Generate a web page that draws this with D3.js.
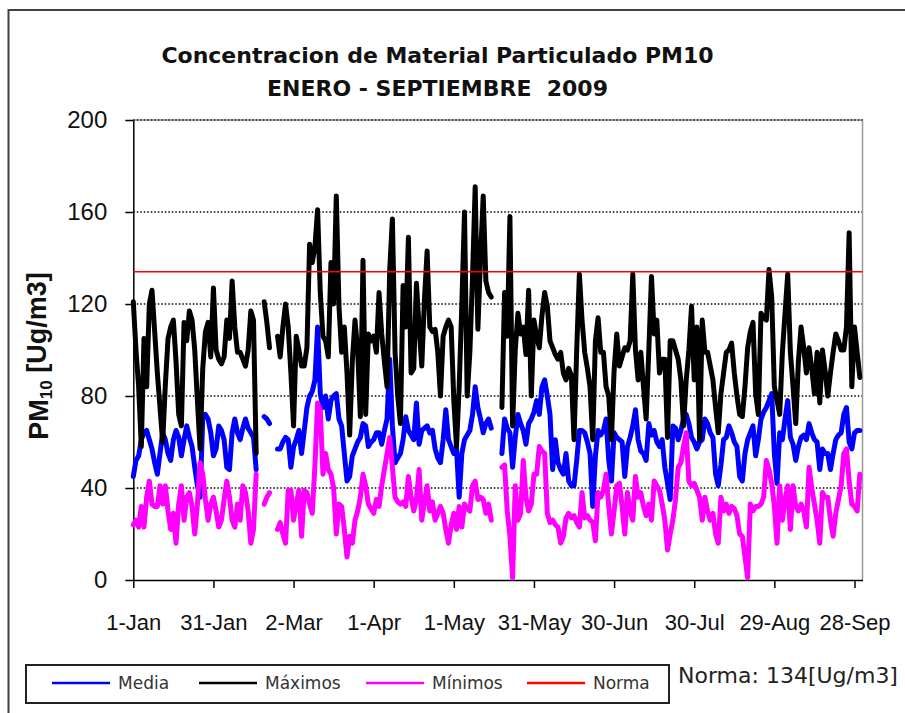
<!DOCTYPE html>
<html>
<head>
<meta charset="utf-8">
<script src="https://cdn.jsdelivr.net/npm/d3@7"></script>
<style>
  body { margin: 0; background: #fff; }
  text { white-space: pre; }
</style>
</head>
<body>
<div id="chart"></div>
<script>
// daily values, 1-Jan-2009 .. 30-Sep-2009 (null = no data)
const startDate = "2009-01-01";

const maximos = [
  121,100,84,58,105,84,120,126,108,90,
  75,60,85,105,110,113,95,72,67,112,
  104,117,113,100,78,57,92,108,112,97,
  127,100,96,94,97,113,105,130,110,99,
  99,96,93,100,117,113,55,null,null,121,
  112,101,null,null,106,97,110,120,110,90,
  67,106,100,93,93,101,146,138,145,161,
  125,106,104,97,138,120,167,119,99,110,
  90,63,95,113,100,71,139,72,107,104,
  106,99,125,107,95,84,135,157,99,80,
  68,128,110,149,90,92,129,110,93,122,
  143,110,108,109,99,80,106,110,113,110,
  78,58,84,120,160,80,99,132,171,109,
  140,167,130,125,123,null,null,null,75,125,
  106,158,67,100,116,107,110,98,126,80,
  113,106,101,115,125,119,104,101,98,96,
  99,90,87,92,89,61,100,133,113,99,
  92,84,61,104,114,99,99,84,80,61,
  91,107,93,97,101,100,104,133,100,87,
  99,84,70,100,132,107,113,90,96,96,
  62,104,104,100,96,87,67,87,100,119,
  87,110,61,113,99,99,93,87,75,64,
  81,90,99,100,103,90,80,72,71,84,
  101,108,112,81,72,116,114,113,135,123,
  84,78,72,99,116,133,99,84,68,95,
  110,101,90,101,92,81,99,77,100,91,
  80,90,99,107,104,100,100,110,151,84,
  110,99,88
];

const media = [
  45,52,54,61,64,65,61,57,51,46,
  55,64,61,55,52,61,65,62,54,61,
  67,62,58,49,41,36,70,72,70,64,
  54,57,67,65,61,49,48,64,70,64,
  61,66,70,66,64,62,48,null,null,71,
  70,68,null,null,57,57,60,62,61,49,
  58,61,65,55,65,75,80,82,87,110,
  81,75,80,70,78,80,81,70,67,55,
  43,45,54,57,60,62,68,67,58,60,
  61,64,64,59,65,70,96,67,51,53,
  55,61,71,65,63,61,77,59,65,66,
  67,64,65,57,53,51,61,74,61,58,
  55,57,36,55,61,63,65,72,84,75,
  70,64,68,70,66,null,null,null,55,70,
  66,64,49,62,72,68,65,59,68,70,
  73,78,72,84,87,80,72,48,61,51,
  48,46,55,43,41,41,52,65,65,64,
  60,55,32,54,65,63,65,70,52,43,
  64,62,61,60,45,58,62,67,74,61,
  56,55,52,68,63,65,60,58,61,49,
  42,35,67,66,61,65,70,72,68,62,
  60,57,60,61,70,68,64,62,46,41,
  50,61,62,67,64,60,58,45,43,55,
  61,64,67,54,61,70,73,75,78,81,
  55,42,64,61,70,78,62,59,52,58,
  62,63,61,68,64,61,60,48,57,55,
  55,48,55,61,63,64,72,75,60,57,
  64,65,65
];

const minimos = [
  24,26,23,32,23,36,43,33,32,32,
  41,33,41,30,22,29,16,33,41,26,
  36,38,32,20,33,51,46,35,26,33,
  36,30,23,26,35,43,36,26,23,33,
  26,41,38,30,16,22,46,null,null,33,
  36,38,null,null,22,25,20,16,39,39,
  26,33,39,19,39,38,33,29,50,77,
  74,46,55,48,46,40,20,33,32,22,
  10,19,16,26,30,36,46,41,33,31,
  29,35,32,41,48,55,62,49,36,34,
  33,34,32,45,36,30,35,48,26,34,
  41,30,34,26,29,32,29,22,16,24,
  29,22,32,23,33,31,30,41,43,35,
  36,35,29,33,26,null,null,null,49,50,
  30,19,1,41,26,29,52,36,30,33,
  46,46,58,56,55,29,25,26,24,23,
  16,19,27,29,27,28,25,23,38,27,
  28,26,25,17,38,36,39,46,32,20,
  30,41,42,32,20,38,30,26,45,36,
  38,32,28,33,26,43,41,39,33,26,
  13,20,26,35,49,51,58,64,43,41,
  42,39,36,26,36,30,26,29,20,16,
  36,30,33,29,32,31,28,20,19,10,
  1,33,30,32,32,33,36,52,48,42,
  32,16,41,26,35,41,22,41,32,30,
  33,30,23,49,40,33,26,16,38,36,
  36,26,19,29,35,41,55,57,43,33,
  32,30,46
];

const norma = 134;
const axisEndDate = "2009-10-01";

const tickDates = ["2009-01-01","2009-01-31","2009-03-02","2009-04-01","2009-05-01",
                   "2009-05-31","2009-06-30","2009-07-30","2009-08-29","2009-09-28"];
const tickLabels = ["1-Jan","31-Jan","2-Mar","1-Apr","1-May","31-May","30-Jun","30-Jul","29-Aug","28-Sep"];
const yTicks = [0, 40, 80, 120, 160, 200];

const seriesNames = ["Media", "Máximos", "Mínimos", "Norma"];
const seriesColors = ["#0000ff", "#000000", "#ff00ff", "#ff0000"];

// ---- layout
const width = 905, height = 713;
const plot = { left: 133.3, right: 862.5, top: 120, bottom: 580 };

const parseDate = d3.utcParse("%Y-%m-%d");
const start = parseDate(startDate);
const dates = maximos.map((_, i) => d3.utcDay.offset(start, i));

const x = d3.scaleUtc()
  .domain([start, parseDate(axisEndDate)])
  .range([plot.left, plot.right]);

const y = d3.scaleLinear()
  .domain([0, 200])
  .range([plot.bottom, plot.top]);

const svg = d3.select("#chart").append("svg")
  .attr("width", width)
  .attr("height", height)
  .style("font-family", "'Liberation Sans', Arial, sans-serif");

svg.append("rect")
  .attr("width", width).attr("height", height)
  .attr("fill", "#fff");

// outer chart frame
svg.append("rect")
  .attr("x", 8.5).attr("y", 10)
  .attr("width", 1000).attr("height", 1000)
  .attr("fill", "none")
  .attr("stroke", "#404040")
  .attr("stroke-width", 2);

// title
const title = svg.append("g")
  .attr("font-family", "'DejaVu Sans', sans-serif")
  .attr("font-weight", "bold")
  .attr("font-size", 22)
  .attr("fill", "#111")
  .attr("text-anchor", "middle");
title.append("text").attr("x", 437.5).attr("y", 63)
  .text("Concentracion de Material Particulado PM10");
title.append("text").attr("x", 437.5).attr("y", 96)
  .text("ENERO - SEPTIEMBRE  2009");

// grid lines (dotted)
svg.append("g")
  .selectAll("line")
  .data(yTicks.filter(v => v > 0))
  .enter()
  .append("line")
  .attr("x1", plot.left).attr("x2", plot.right)
  .attr("y1", d => y(d)).attr("y2", d => y(d))
  .attr("stroke", "#000")
  .attr("stroke-width", 1.4)
  .attr("stroke-dasharray", "1.5,2");

// plot area border top / right
svg.append("path")
  .attr("d", `M${plot.left},${plot.top}H${plot.right}V${plot.bottom}`)
  .attr("fill", "none")
  .attr("stroke", "#999")
  .attr("stroke-width", 1.5);
svg.append("line")
  .attr("x1", plot.left).attr("x2", plot.right)
  .attr("y1", plot.top).attr("y2", plot.top)
  .attr("stroke", "#000")
  .attr("stroke-width", 1.2)
  .attr("stroke-dasharray", "1.5,2");

// axes
const yAxis = svg.append("g")
  .attr("transform", `translate(${plot.left},0)`)
  .call(d3.axisLeft(y).tickValues(yTicks).tickSize(8).tickSizeOuter(0).tickPadding(18));
yAxis.selectAll("text").attr("font-size", 24).attr("fill", "#111");

const xAxis = svg.append("g")
  .attr("transform", `translate(0,${plot.bottom})`)
  .call(d3.axisBottom(x)
    .tickValues(tickDates.map(parseDate))
    .tickFormat((d, i) => tickLabels[i])
    .tickSize(8).tickSizeOuter(0).tickPadding(26));
xAxis.selectAll("text").attr("font-size", 22).attr("fill", "#111");

svg.selectAll(".domain, .tick line")
  .attr("stroke", "#000")
  .attr("stroke-width", 1.5);

// y axis title
const yTitle = svg.append("text")
  .attr("transform", "translate(48,356) rotate(-90)")
  .attr("text-anchor", "middle")
  .attr("font-weight", "bold")
  .attr("font-size", 27)
  .attr("fill", "#111");
yTitle.append("tspan").text("PM");
yTitle.append("tspan").attr("font-size", 17).attr("dy", "0.25em").text("10");
yTitle.append("tspan").attr("dy", "-0.25em").text(" [Ug/m3]");

// series
const line = d3.line()
  .defined(d => d.v != null)
  .x(d => x(d.date))
  .y(d => y(d.v));

const series = [media, maximos, minimos].map((vals, k) => ({
  name: seriesNames[k],
  color: seriesColors[k],
  points: vals.map((v, i) => ({ date: dates[i], v }))
}));

svg.append("g")
  .selectAll("path")
  .data(series)
  .enter()
  .append("path")
  .attr("d", d => line(d.points))
  .attr("fill", "none")
  .attr("stroke", d => d.color)
  .attr("stroke-width", 5)
  .attr("stroke-linejoin", "round")
  .attr("stroke-linecap", "round");

// norma line
svg.append("line")
  .attr("x1", x.range()[0]).attr("x2", x.range()[1])
  .attr("y1", y(norma)).attr("y2", y(norma))
  .attr("stroke", seriesColors[3])
  .attr("stroke-width", 1.5);

// legend
const legend = svg.append("g")
  .attr("font-family", "'DejaVu Sans', sans-serif")
  .attr("font-size", 17);
legend.append("rect")
  .attr("x", 26).attr("y", 665)
  .attr("width", 643).attr("height", 38)
  .attr("fill", "#fff")
  .attr("stroke", "#222")
  .attr("stroke-width", 2);

const legendX = [52, 199, 366, 527];
const item = legend.selectAll(".item")
  .data(seriesNames)
  .enter()
  .append("g")
  .attr("class", "item")
  .attr("transform", (d, i) => `translate(${legendX[i]},683)`);
item.append("line")
  .attr("x1", 0).attr("x2", 58)
  .attr("stroke", (d, i) => seriesColors[i])
  .attr("stroke-width", 2.5);
item.append("text")
  .attr("x", 66).attr("dy", "0.35em")
  .attr("fill", "#333")
  .text(d => d);

svg.append("text")
  .attr("x", 678).attr("y", 683)
  .attr("font-family", "'DejaVu Sans', sans-serif")
  .attr("font-size", 22)
  .attr("fill", "#222")
  .text(`Norma: ${norma}[Ug/m3]`);
</script>
</body>
</html>
